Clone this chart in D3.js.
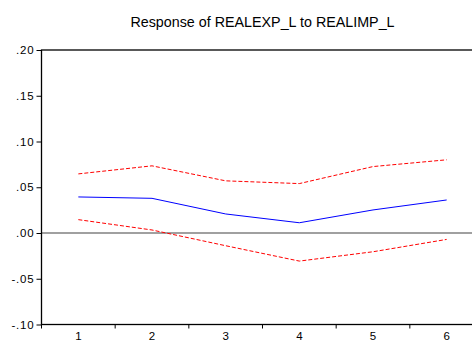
<!DOCTYPE html>
<html><head><meta charset="utf-8">
<script src="https://cdn.jsdelivr.net/npm/d3@7"></script>
<style>body{margin:0;background:#fff}svg{display:block}</style>
</head><body>
<svg id="c" width="472" height="344"></svg>
<script>
const periods = [1, 2, 3, 4, 5, 6];
const response = [0.0394, 0.0379, 0.0208, 0.0112, 0.0252, 0.0361];
const upperBand = [0.0646, 0.0734, 0.0570, 0.0540, 0.0726, 0.0800];
const lowerBand = [0.0146, 0.0033, -0.0139, -0.0307, -0.0205, -0.0070];
const yTicks = [-0.10, -0.05, 0.00, 0.05, 0.10, 0.15, 0.20];
const yTickLabels = ["-.10", "-.05", ".00", ".05", ".10", ".15", ".20"];
const title = "Response of REALEXP_L to REALIMP_L";

const svg = d3.select("#c");
const L = 41.5, R = 483.5, T = 50, B = 324.5;
const x = d3.scaleBand().domain(periods).range([L, R]).padding(0);
const y = d3.scaleLinear().domain([-0.10, 0.20]).range([B, T]);
const cx = d => x(d) + x.bandwidth() / 2;
const FONT = "Arial, 'Liberation Sans', sans-serif";

// zero line
svg.append("line").attr("x1", L).attr("x2", R).attr("y1", y(0)).attr("y2", y(0))
  .attr("stroke", "#808080").attr("stroke-width", 1.6);

function addLine(vals, color, dash) {
  const line = d3.line().x((d, i) => cx(periods[i])).y(d => y(d));
  svg.append("path").datum(vals).attr("d", line).attr("fill", "none")
    .attr("stroke", color).attr("stroke-width", 1)
    .attr("stroke-dasharray", dash || null);
}
addLine(upperBand, "#ff0000", "4,2");
addLine(lowerBand, "#ff0000", "4,2");
addLine(response, "#0000ff");

// frame
svg.append("rect").attr("x", L).attr("y", T).attr("width", R - L).attr("height", B - T)
  .attr("fill", "none").attr("stroke", "#000").attr("stroke-width", 1.3);

// y axis
const yAxis = d3.axisLeft(y).tickValues(yTicks).tickSize(5).tickPadding(2)
  .tickFormat((d, i) => yTickLabels[i]);
const gy = svg.append("g").attr("transform", `translate(${L},0)`).call(yAxis);
gy.select(".domain").remove();
gy.selectAll("text").attr("font-family", FONT)
  .attr("font-size", 11.5).attr("letter-spacing", "0.8px").attr("fill", "#000");

// x axis labels
const xAxis = d3.axisBottom(x).tickSize(0).tickPadding(7);
const gx = svg.append("g").attr("transform", `translate(0,${B})`).call(xAxis);
gx.select(".domain").remove();
gx.selectAll("text").attr("font-family", FONT)
  .attr("font-size", 11.5).attr("fill", "#000");
// boundary ticks
const bounds = periods.map(p => x(p)).concat([R]);
svg.append("g").selectAll("line").data(bounds).join("line")
  .attr("x1", d => d).attr("x2", d => d).attr("y1", B).attr("y2", B + 4)
  .attr("stroke", "#000").attr("stroke-width", 1);

// title
svg.append("text").attr("x", (L + R) / 2).attr("y", 27).attr("text-anchor", "middle")
  .attr("font-family", FONT).attr("font-size", 14.3)
  .attr("fill", "#000").text(title);
</script>
</body></html>
